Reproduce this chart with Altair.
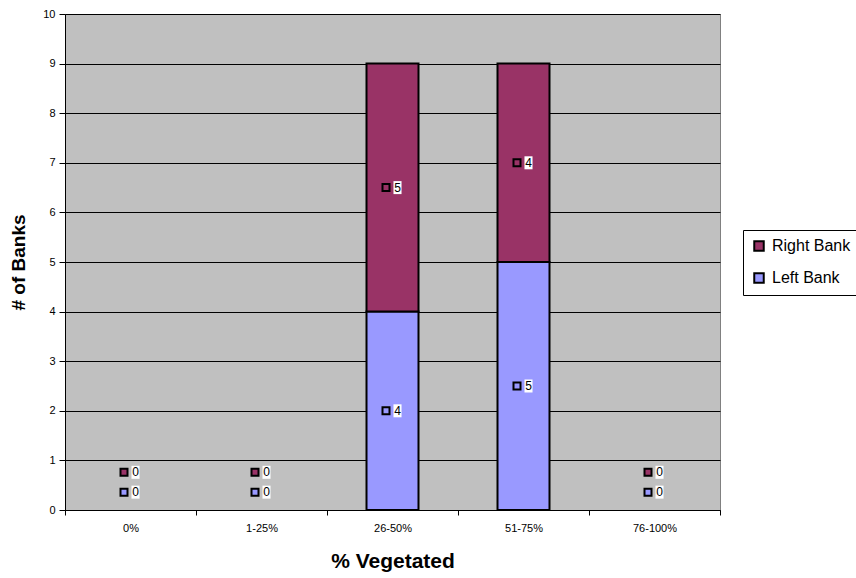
import altair as alt
import pandas as pd

# Bank vegetation counts per cover class
categories = ["0%", "1-25%", "26-50%", "51-75%", "76-100%"]
left_bank = [0, 0, 4, 5, 0]
right_bank = [0, 0, 5, 4, 0]

series_colors = {"Right Bank": "#993366", "Left Bank": "#9999FF"}
# small lift (in axis units) so labels of empty segments sit above the baseline
zero_lift = {"Left Bank": 0.36, "Right Bank": 0.76}

rows = []
for i, cat in enumerate(categories):
    base = 0
    for name, vals in (("Left Bank", left_bank), ("Right Bank", right_bank)):
        v = vals[i]
        mid = base + v / 2 if v > 0 else base + zero_lift[name]
        rows.append({"cat": cat, "series": name, "value": v,
                     "lo": base, "hi": base + v, "mid": mid,
                     "label": str(v)})
        base += v
df = pd.DataFrame(rows)

x_enc = alt.X("cat:N", sort=categories,
              scale=alt.Scale(paddingInner=0, paddingOuter=0),
              axis=alt.Axis(title="% Vegetated", labelAngle=0, labelFontSize=11,
                            labelColor="black", tickBand="extent", tickSize=5,
                            tickColor="black", labelPadding=7,
                            domainColor="black", grid=False,
                            titleFontSize=21, titleFontWeight="bold",
                            titleColor="black", titleBaseline="alphabetic",
                            titleY=57))
y_scale = alt.Scale(domain=[0, 10], nice=False)
color_scale = alt.Scale(domain=["Right Bank", "Left Bank"],
                        range=[series_colors["Right Bank"], series_colors["Left Bank"]])

bars = alt.Chart(df).transform_filter("datum.value > 0").mark_bar(
    size=52, stroke="black", strokeWidth=2, opacity=1
).encode(
    x=x_enc,
    y=alt.Y("lo:Q", scale=y_scale,
            axis=alt.Axis(title="# of Banks", values=list(range(0, 11)),
                          labelFontSize=11, labelColor="black", tickSize=6,
                          tickColor="black", labelPadding=4, domainColor="black",
                          grid=True, gridColor="black", gridWidth=1,
                          titleFontSize=19, titleFontWeight="bold",
                          titleColor="black", titleBaseline="alphabetic",
                          titleX=-41, titleY=248)),
    y2="hi:Q",
    color=alt.Color("series:N", scale=color_scale,
                    legend=alt.Legend(title=None, orient="none", legendX=678,
                                      legendY=216, padding=8, fillColor="white",
                                      strokeColor="black", symbolType="square",
                                      symbolSize=90, symbolStrokeColor="black",
                                      symbolStrokeWidth=2, symbolOpacity=1,
                                      labelFontSize=16, labelColor="black",
                                      labelOffset=5, rowPadding=14,
                                      labelLimit=200)),
)

markers = alt.Chart(df).mark_point(
    shape="square", filled=True, size=49, stroke="black", strokeWidth=2,
    opacity=1, xOffset=-6.5
).encode(
    x=alt.X("cat:N", sort=categories),
    y=alt.Y("mid:Q", scale=y_scale),
    fill=alt.Fill("series:N", scale=color_scale, legend=None),
)

label_bg = alt.Chart(df).mark_point(
    shape="M-0.62,-1L0.62,-1L0.62,1L-0.62,1Z", filled=True, size=169,
    color="white", opacity=1, strokeWidth=0, xOffset=5
).encode(
    x=alt.X("cat:N", sort=categories),
    y=alt.Y("mid:Q", scale=y_scale),
)

label_text = alt.Chart(df).mark_text(
    fontSize=12, color="black", align="center", baseline="middle", xOffset=5,
    font="Liberation Sans"
).encode(
    x=alt.X("cat:N", sort=categories),
    y=alt.Y("mid:Q", scale=y_scale),
    text="label:N",
)

chart = alt.layer(bars, markers, label_bg, label_text).properties(
    width=655, height=496,
    autosize=alt.AutoSizeParams(type="none"),
    padding={"left": 65, "top": 14, "right": 136, "bottom": 68},
    background="white",
    view=alt.ViewBackground(fill="#C0C0C0", stroke="#808080", strokeWidth=1),
).configure(
    font="Liberation Sans"
)

chart.save("out.html", embed_options={"renderer": "svg", "actions": False})
